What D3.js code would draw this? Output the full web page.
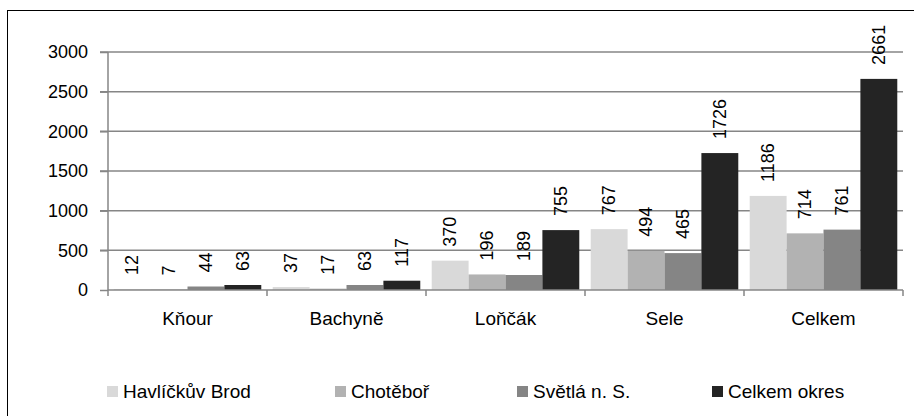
<!DOCTYPE html>
<html>
<head>
<meta charset="utf-8">
<title>Chart</title>
<script src="https://cdn.jsdelivr.net/npm/d3@7"></script>
<style>
body { margin: 0; background: #fff; }
svg text { font-family: "Liberation Sans", Arial, sans-serif; font-size: 18px; fill: #000; }
.cat, .leg { font-size: 19px; }
.grid line { stroke: #868686; stroke-width: 1.5; }
.axis path, .axis line { stroke: #868686; stroke-width: 1.5; }
</style>
</head>
<body>
<svg width="914" height="416"></svg>
<script>
var categories = ["Kňour", "Bachyně", "Loňčák", "Sele", "Celkem"];
var seriesNames = ["Havlíčkův Brod", "Chotěboř", "Světlá n. S.", "Celkem okres"];
var havlickuvBrod = [12, 37, 370, 767, 1186];
var chotebor = [7, 17, 196, 494, 714];
var svetla = [44, 63, 189, 465, 761];
var celkemOkres = [63, 117, 755, 1726, 2661];
var yTicks = [0, 500, 1000, 1500, 2000, 2500, 3000];
var palette = ["#d9d9d9", "#b2b2b2", "#858585", "#242424"];

var series = [havlickuvBrod, chotebor, svetla, celkemOkres];

var svg = d3.select("svg");
var pArea = [108, 52, 903, 290];

// chart frame (clipped at right and bottom in the original)
svg.append("rect")
  .attr("x", 7.5).attr("y", 10.5)
  .attr("width", 920).attr("height", 420)
  .style("fill", "none").style("stroke", "#000").style("stroke-width", 1);

var x = d3.scaleBand().domain(categories).range([pArea[0], pArea[2]]).paddingInner(0).paddingOuter(0);
var inner = d3.scaleBand().domain(d3.range(series.length))
  .range([0, x.bandwidth()]).paddingInner(0).paddingOuter(0.155);
var y = d3.scaleLinear().domain([0, 3000]).range([pArea[3], pArea[1]]);

// gridlines
svg.append("g").attr("class", "grid")
  .selectAll("line").data(yTicks.slice(1)).enter().append("line")
  .attr("x1", pArea[0] - 8).attr("x2", pArea[2])
  .attr("y1", function (d) { return y(d); })
  .attr("y2", function (d) { return y(d); });

var yAxis = svg.append("g").attr("class", "axis")
  .attr("transform", "translate(" + pArea[0] + ",0)")
  .call(d3.axisLeft(y).tickValues(yTicks).tickSize(8).tickPadding(12).tickFormat(d3.format("d")));
yAxis.selectAll("text").style("font-size", "18px").style("font-family", "Liberation Sans, Arial, sans-serif").attr("fill", "#000");
yAxis.select(".domain").attr("d", "M0," + pArea[3] + "V" + pArea[1]);

// bars
var groups = svg.append("g").selectAll("g").data(series).enter().append("g")
  .style("fill", function (d, i) { return palette[i]; });
groups.selectAll("rect").data(function (d, i) {
    return d.map(function (v, j) { return { s: i, c: categories[j], v: v }; });
  })
  .enter().append("rect")
  .attr("x", function (d) { return x(d.c) + inner(d.s); })
  .attr("y", function (d) { return y(d.v); })
  .attr("width", inner.bandwidth())
  .attr("height", function (d) { return y(0) - y(d.v); });

// value labels
groups.selectAll("text").data(function (d, i) {
    return d.map(function (v, j) { return { s: i, c: categories[j], v: v }; });
  })
  .enter().append("text")
  .attr("transform", function (d) {
    var cx = x(d.c) + inner(d.s) + inner.bandwidth() / 2;
    return "translate(" + cx + "," + (y(d.v) - 14) + ") rotate(-90)";
  })
  .attr("dy", "0.35em")
  .style("fill", "#000")
  .text(function (d) { return d.v; });

// x axis
var xAxisG = svg.append("g").attr("class", "axis");
xAxisG.append("line")
  .attr("x1", pArea[0]).attr("x2", pArea[2])
  .attr("y1", y(0)).attr("y2", y(0));
xAxisG.selectAll(".tick").data(categories.concat([null])).enter().append("line")
  .attr("x1", function (d) { return d === null ? pArea[2] : x(d); })
  .attr("x2", function (d) { return d === null ? pArea[2] : x(d); })
  .attr("y1", y(0)).attr("y2", y(0) + 6);
xAxisG.selectAll("text").data(categories).enter().append("text")
  .attr("class", "cat")
  .attr("x", function (d) { return x(d) + x.bandwidth() / 2; })
  .attr("y", 325)
  .attr("text-anchor", "middle")
  .text(function (d) { return d; });

// legend
var legendX = [107, 335, 517, 712];
var legend = svg.append("g").selectAll("g").data(seriesNames).enter().append("g")
  .attr("transform", function (d, i) { return "translate(" + legendX[i] + ",386)"; });
legend.append("rect")
  .attr("width", 11).attr("height", 11)
  .style("fill", function (d, i) { return palette[i]; });
legend.append("text")
  .attr("class", "leg")
  .attr("x", 16).attr("y", 12)
  .text(function (d) { return d; });
</script>
</body>
</html>
